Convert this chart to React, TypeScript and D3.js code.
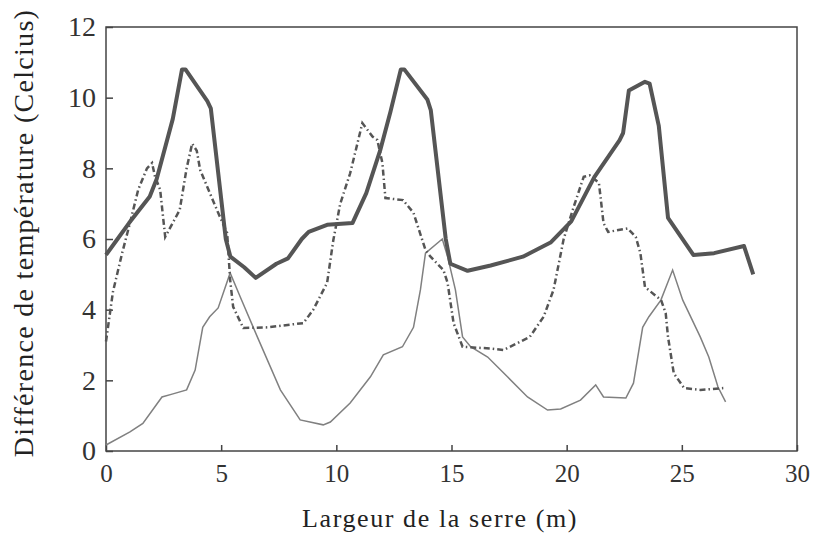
import React, { useEffect, useRef } from 'react';
import * as d3 from 'd3';

// largeur (m) / différence de température (°C)
const thickX = [0, 0.5, 1.0, 1.9, 2.2, 2.9, 3.3, 3.45, 4.4, 4.55, 5.2, 5.4, 6.0, 6.5, 7.4, 7.9, 8.5, 8.8, 9.6, 10.7, 11.3, 11.9, 12.35, 12.8, 12.95, 13.95, 14.1, 14.75, 14.95, 15.7, 16.7, 18.1, 19.3, 20.2, 21.2, 22.3, 22.45, 22.7, 23.4, 23.6, 24.0, 24.4, 25.5, 26.4, 27.7, 28.1];
const thickY = [5.55, 6.0, 6.45, 7.2, 7.7, 9.4, 10.8, 10.8, 9.9, 9.7, 6.0, 5.5, 5.2, 4.9, 5.3, 5.45, 6.0, 6.2, 6.4, 6.45, 7.3, 8.5, 9.6, 10.8, 10.8, 9.95, 9.65, 6.0, 5.3, 5.1, 5.25, 5.5, 5.9, 6.5, 7.75, 8.8, 9.0, 10.2, 10.45, 10.4, 9.2, 6.6, 5.55, 5.6, 5.8, 5.0];

const dashX = [0, 0.3, 0.7, 1.04, 1.4, 1.78, 2.0, 2.13, 2.35, 2.57, 3.2, 3.5, 3.74, 3.94, 4.09, 4.87, 5.26, 5.39, 5.52, 5.96, 7.0, 8.57, 9.0, 9.6, 9.87, 10.17, 10.6, 11.13, 11.57, 11.78, 12.0, 12.13, 12.9, 13.35, 13.87, 14.09, 14.65, 14.83, 15.09, 15.48, 16.7, 17.26, 18.4, 19.0, 19.43, 19.87, 20.3, 20.74, 21.0, 21.4, 21.6, 21.8, 22.65, 23.0, 23.2, 23.4, 24.1, 24.3, 24.4, 24.65, 25.1, 25.8, 26.8];
const dashY = [3.1, 4.5, 5.6, 6.45, 7.4, 8.0, 8.15, 7.76, 7.4, 6.06, 6.82, 8.0, 8.7, 8.5, 7.95, 6.74, 6.17, 4.84, 4.08, 3.48, 3.5, 3.62, 4.0, 4.76, 5.97, 7.0, 7.86, 9.28, 8.9, 8.8, 8.15, 7.16, 7.1, 6.74, 5.69, 5.5, 5.12, 4.76, 3.62, 2.95, 2.9, 2.86, 3.23, 3.8, 4.56, 6.0, 6.9, 7.76, 7.8, 7.59, 6.45, 6.2, 6.3, 6.06, 5.6, 4.64, 4.27, 3.9, 3.23, 2.2, 1.78, 1.73, 1.78];

const thinX = [0, 1.04, 1.6, 2.43, 2.87, 3.5, 3.87, 4.2, 4.5, 4.87, 5.39, 5.83, 6.57, 7.57, 8.43, 9.43, 9.74, 10.6, 11.48, 12.04, 12.87, 13.35, 13.65, 13.87, 14.6, 14.83, 15.17, 15.48, 15.83, 16.57, 17.43, 18.3, 19.17, 19.74, 20.6, 21.26, 21.6, 22.57, 22.9, 23.3, 23.57, 24.09, 24.6, 25.04, 25.8, 26.17, 26.57, 26.9];
const thinY = [0.17, 0.54, 0.78, 1.53, 1.61, 1.73, 2.29, 3.5, 3.8, 4.05, 5.04, 4.36, 3.23, 1.73, 0.88, 0.74, 0.82, 1.36, 2.1, 2.72, 2.95, 3.5, 4.56, 5.6, 6.0, 5.5, 4.56, 3.23, 2.95, 2.66, 2.1, 1.53, 1.16, 1.19, 1.44, 1.87, 1.53, 1.5, 1.92, 3.5, 3.8, 4.27, 5.12, 4.27, 3.23, 2.66, 1.81, 1.39];

const xTicks = [0, 5, 10, 15, 20, 25, 30];
const yTicks = [0, 2, 4, 6, 8, 10, 12];

const App = () => {
  const ref = useRef(null);

  useEffect(() => {
    const root = d3.select(ref.current);
    root.selectAll('*').remove();

    const width = 815, height = 535;
    const left = 106, top = 27, right = 797, bottom = 451;

    const svg = root.append('svg')
      .attr('width', width)
      .attr('height', height)
      .style('display', 'block')
      .style('background', '#fff');

    const x = d3.scaleLinear().domain([0, 30]).range([left, right]);
    const y = d3.scaleLinear().domain([0, 12]).range([bottom, top]);

    const font = '"Liberation Serif", "DejaVu Serif", serif';

    // cadre
    svg.append('rect')
      .attr('x', left).attr('y', top)
      .attr('width', right - left).attr('height', bottom - top)
      .attr('fill', 'none').attr('stroke', '#444').attr('stroke-width', 1.5);

    // graduations vers l'intérieur
    svg.append('g').attr('transform', `translate(0,${bottom})`)
      .call(d3.axisBottom(x).tickValues(xTicks).tickSize(-6).tickPadding(13).tickFormat(d3.format('d')))
      .call(g => g.select('.domain').remove())
      .call(g => g.selectAll('line').attr('stroke', '#444').attr('stroke-width', 1.5))
      .call(g => g.selectAll('text').style('font-family', font).style('font-size', '25px').attr('fill', '#333'));

    svg.append('g').attr('transform', `translate(${left},0)`)
      .call(d3.axisLeft(y).tickValues(yTicks).tickSize(-7).tickPadding(10).tickFormat(d3.format('d')))
      .call(g => g.select('.domain').remove())
      .call(g => g.selectAll('line').attr('stroke', '#444').attr('stroke-width', 1.5))
      .call(g => g.selectAll('text').style('font-family', font).style('font-size', '28px').attr('fill', '#333'));

    const line = d3.line().x(d => x(d[0])).y(d => y(d[1]));

    svg.append('path')
      .datum(thinX.map((v, i) => [v, thinY[i]]))
      .attr('d', line)
      .attr('fill', 'none').attr('stroke', '#808080').attr('stroke-width', 1.5);

    svg.append('path')
      .datum(dashX.map((v, i) => [v, dashY[i]]))
      .attr('d', line)
      .attr('fill', 'none').attr('stroke', '#555').attr('stroke-width', 2.5)
      .attr('stroke-dasharray', '6 3 1.5 3');

    svg.append('path')
      .datum(thickX.map((v, i) => [v, thickY[i]]))
      .attr('d', line)
      .attr('fill', 'none').attr('stroke', '#555').attr('stroke-width', 4)
      .attr('stroke-linejoin', 'round');

    svg.append('text')
      .attr('x', 440).attr('y', 527)
      .attr('text-anchor', 'middle')
      .style('font-family', font).style('font-size', '26px').style('letter-spacing', '1.6px')
      .attr('fill', '#222')
      .text('Largeur de la serre (m)');

    svg.append('text')
      .attr('transform', 'translate(33,233) rotate(-90)')
      .attr('text-anchor', 'middle')
      .style('font-family', font).style('font-size', '28px').style('letter-spacing', '1.3px')
      .attr('fill', '#222')
      .text('Différence de température (Celcius)');
  }, []);

  return <div ref={ref} style={{ position: 'fixed', left: 0, top: 0 }}></div>;
};

export default App;
